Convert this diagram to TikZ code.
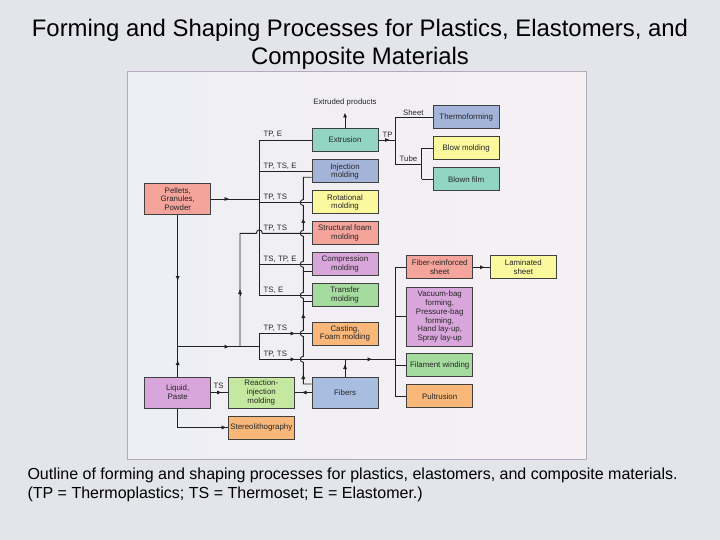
\documentclass[tikz,border=0pt]{standalone}
\usepackage{fontspec}
\setmainfont{Liberation Sans}
\usetikzlibrary{arrows.meta}
\definecolor{slidebg}{HTML}{E3E5EA}
\definecolor{framec}{HTML}{B5A8BD}
\definecolor{innerL}{HTML}{EDEFF4}
\definecolor{innerR}{HTML}{F6F0F4}
\definecolor{cTeal}{HTML}{92D5C2}
\definecolor{cBlue}{HTML}{A4B4D8}
\definecolor{cBlueF}{HTML}{A9BDE0}
\definecolor{cYel}{HTML}{FBF89E}
\definecolor{cSal}{HTML}{F4A49B}
\definecolor{cPur}{HTML}{D9A6DB}
\definecolor{cGrn}{HTML}{A6DBA0}
\definecolor{cOra}{HTML}{F9B77A}
\definecolor{cLgrn}{HTML}{C4E89F}
\definecolor{lnc}{HTML}{222222}
\begin{document}
\begin{tikzpicture}[x=1pt,y=-1pt,
  ln/.style={draw=lnc, line width=0.9pt},
  tipr/.style={ln,-{Latex[length=5pt,width=4.2pt]}},
  box/.style={draw=black!75, line width=1pt, minimum width=66pt, minimum height=23pt,
    align=center, inner sep=0.5pt, font=\fontsize{7.9}{8.8}\selectfont, text=black!85},
  tall/.style={minimum height=31pt},
  lbl/.style={font=\fontsize{7.8}{8}\selectfont, inner sep=0pt, anchor=south west, text=black!85}
]
\fill[slidebg] (0,0) rectangle (720,540);
\useasboundingbox (0,0) rectangle (720,540);
\draw[draw=framec, line width=1pt, left color=innerL, right color=innerR] (127,72) rectangle (586,459);

% title and caption
\node[font=\fontsize{23.9}{28}\selectfont, align=center] (title) at (360,44)
  {Forming and Shaping Processes for Plastics, Elastomers, and\\Composite Materials};
\node[font=\fontsize{16}{19}\selectfont, align=left, anchor=west] (cap) at (24,484.5)
  {Outline of forming and shaping processes for plastics, elastomers, and composite materials.\\(TP = Thermoplastics; TS = Thermoset; E = Elastomer.)};

% boxes
\node[box, fill=cTeal] (ext) at (345,140) {Extrusion};
\node[box, fill=cBlue] (inj) at (345,171.5) {Injection\\molding};
\node[box, fill=cYel] (rot) at (345,202.5) {Rotational\\molding};
\node[box, fill=cSal] (sfm) at (345,233.3) {Structural foam\\molding};
\node[box, fill=cPur] (cmp) at (345,264.3) {Compression\\molding};
\node[box, fill=cGrn] (trf) at (345,295.3) {Transfer\\molding};
\node[box, fill=cOra] (cst) at (345,333.5) {Casting,\\Foam molding};
\node[box, tall, fill=cBlueF] (fib) at (345,392.5) {Fibers};
\node[box, tall, fill=cSal] (pel) at (177.7,199) {Pellets,\\Granules,\\Powder};
\node[box, tall, fill=cPur] (liq) at (177.7,392.5) {Liquid,\\Paste};
\node[box, tall, fill=cLgrn] (rim) at (261.3,392.5) {Reaction-\\injection\\molding};
\node[box, fill=cOra] (ste) at (261.3,427.5) {Stereolithography};
\node[box, fill=cBlue] (thm) at (466.2,117.5) {Thermoforming};
\node[box, fill=cYel] (blw) at (466.2,148.3) {Blow molding};
\node[box, fill=cTeal] (bfm) at (466.2,179.2) {Blown film};
\node[box, fill=cSal] (frs) at (439.7,267.3) {Fiber-reinforced\\sheet};
\node[box, fill=cYel] (lam) at (523.3,267.3) {Laminated\\sheet};
\node[box, fill=cPur, minimum height=59pt] (vac) at (439.7,316.7)
  {Vacuum-bag\\forming,\\Pressure-bag\\forming,\\Hand lay-up,\\Spray lay-up};
\node[box, fill=cGrn] (fil) at (439.7,365) {Filament winding};
\node[box, fill=cOra] (pul) at (439.7,396.3) {Pultrusion};

% main bus
\coordinate (bt) at (259.3,140);
\coordinate (bb) at (259.3,295.3);
\draw[ln] (bt) -- (bb);
\draw[ln] (bt) -- (ext.west);
\draw[ln] (bt |- inj.west) -- (inj.west);
\draw[ln] (bt |- rot.west) -- (rot.west);
\draw[ln] (bt |- cmp.west) -- (cmp.west);
\draw[ln] (bt |- trf.west) -- (trf.west);
\node[lbl] (l1) at (263.5,138) {TP, E};
\node[lbl] (l2) at (263.5,169.5) {TP, TS, E};
\node[lbl] (l3) at (263.5,200.5) {TP, TS};
\node[lbl] (l4) at (263.5,231.3) {TP, TS};
\node[lbl] (l5) at (263.5,262.3) {TS, TP, E};
\node[lbl] (l6) at (263.5,293.3) {TS, E};

% pellets
\draw[ln] (pel.east) -- (bt |- pel.east);
\draw[tipr] (223,199) -- (229.5,199);
\coordinate (lj) at (177.7,346.7);
\draw[ln] (pel.south) -- (lj);
\draw[tipr] (177.7,274) -- (177.7,281);
\draw[ln] (liq.north) -- (lj);
\draw[tipr] (177.7,367) -- (177.7,360);
\coordinate (lbus) at (259.3,346.7);
\draw[ln] (lj) -- (lbus);
\draw[tipr] (223,346.7) -- (229.5,346.7);

% liquid branch to structural foam (hops over bus)
\coordinate (lb) at (240,346.7);
\coordinate (lbt) at (240,233.3);
\draw[ln] (lb) -- (lbt) -- (256.3,233.3) .. controls (256.3,228.8) and (262.3,228.8) .. (262.3,233.3) -- (sfm.west);
\draw[tipr] (240,296) -- (240,289);

% lower bus
\coordinate (lt) at (259.3,333.5);
\coordinate (lo) at (259.3,359.3);
\coordinate (cb) at (395,359.3);
\draw[ln] (lt) -- (lo);
\draw[ln] (lt) -- (cst.west);
\draw[ln] (lo) -- (cb);
\draw[tipr] (288.5,333.5) -- (295.5,333.5);
\draw[tipr] (288.5,359.3) -- (295.5,359.3);
\draw[tipr] (365.5,359.3) -- (372.5,359.3);
\node[lbl] (l7) at (263.5,331.5) {TP, TS};
\node[lbl] (l8) at (263.5,357.3) {TP, TS};

% fibers
\coordinate (fv) at (303.3,384);
\coordinate (fvt) at (303.3,177.3);
\draw[ln] (fv -| fib.west) -- (fv) -- (303.3,362.3)
  .. controls (299.3,362.3) and (299.3,356.3) .. (303.3,356.3) -- (303.3,336.5)
  .. controls (299.3,336.5) and (299.3,330.5) .. (303.3,330.5) -- (303.3,298.3)
  .. controls (299.3,298.3) and (299.3,292.3) .. (303.3,292.3) -- (303.3,267.3)
  .. controls (299.3,267.3) and (299.3,261.3) .. (303.3,261.3) -- (303.3,236.3)
  .. controls (299.3,236.3) and (299.3,230.3) .. (303.3,230.3) -- (303.3,205.5)
  .. controls (299.3,205.5) and (299.3,199.5) .. (303.3,199.5) -- (fvt) -- (fvt -| inj.west);
\draw[tipr] (303.3,381) -- (303.3,374);
\draw[tipr] (303.3,320) -- (303.3,313);
\draw[tipr] (303.3,225) -- (303.3,218);
\coordinate (fc) at (303.3,271.7);
\coordinate (ft) at (303.3,301.7);
\draw[ln] (fc) -- (fc -| cmp.west);
\draw[ln] (ft) -- (ft -| trf.west);
\draw[ln] (fib.west) -- (rim.east);
\draw[tipr] (309,392.5) -- (301.5,392.5);
\draw[ln] (fib.north) -- (fib.north |- cb);
\draw[tipr] (345,371) -- (345,364);

% composite bus
\draw[ln] (frs.west -| cb) -- (pul.west -| cb);
\draw[ln] (frs.west -| cb) -- (frs.west);
\draw[ln] (vac.west -| cb) -- (vac.west);
\draw[ln] (fil.west -| cb) -- (fil.west);
\draw[ln] (pul.west -| cb) -- (pul.west);
\draw[ln] (frs.east) -- (lam.west);
\draw[tipr] (478,267.3) -- (485,267.3);

% liquid outputs
\draw[ln] (liq.east) -- (rim.west);
\draw[tipr] (215,392.5) -- (222,392.5);
\node[lbl] (lts) at (213.3,388.8) {TS};
\coordinate (sj) at (liq.south |- ste.west);
\draw[ln] (liq.south) -- (sj) -- (ste.west);
\draw[tipr] (219.5,427.5) -- (226.5,427.5);

% extrusion outputs
\coordinate (ep) at (345,112.5);
\draw[tipr] (ext.north) -- (ep);
\node[font=\fontsize{7.8}{8}\selectfont, text=black!85] (ept) at (345,102.5) {Extruded products};
\coordinate (xj) at (395,140);
\draw[ln] (ext.east) -- (xj);
\draw[tipr] (383,140) -- (390,140);
\node[lbl] (ltp) at (382.5,137.5) {TP};
\coordinate (xs) at (395,117.5);
\coordinate (xt) at (395,164);
\draw[ln] (xs) -- (xt);
\draw[ln] (xs) -- (thm.west);
\node[lbl] (lsh) at (403,115.7) {Sheet};
\coordinate (tj) at (421.7,164);
\draw[ln] (xt) -- (tj);
\node[lbl] (ltu) at (399.5,162.2) {Tube};
\draw[ln] (tj |- blw.west) -- (tj |- bfm.west);
\draw[ln] (tj |- blw.west) -- (blw.west);
\draw[ln] (tj |- bfm.west) -- (bfm.west);
\end{tikzpicture}
\end{document}
